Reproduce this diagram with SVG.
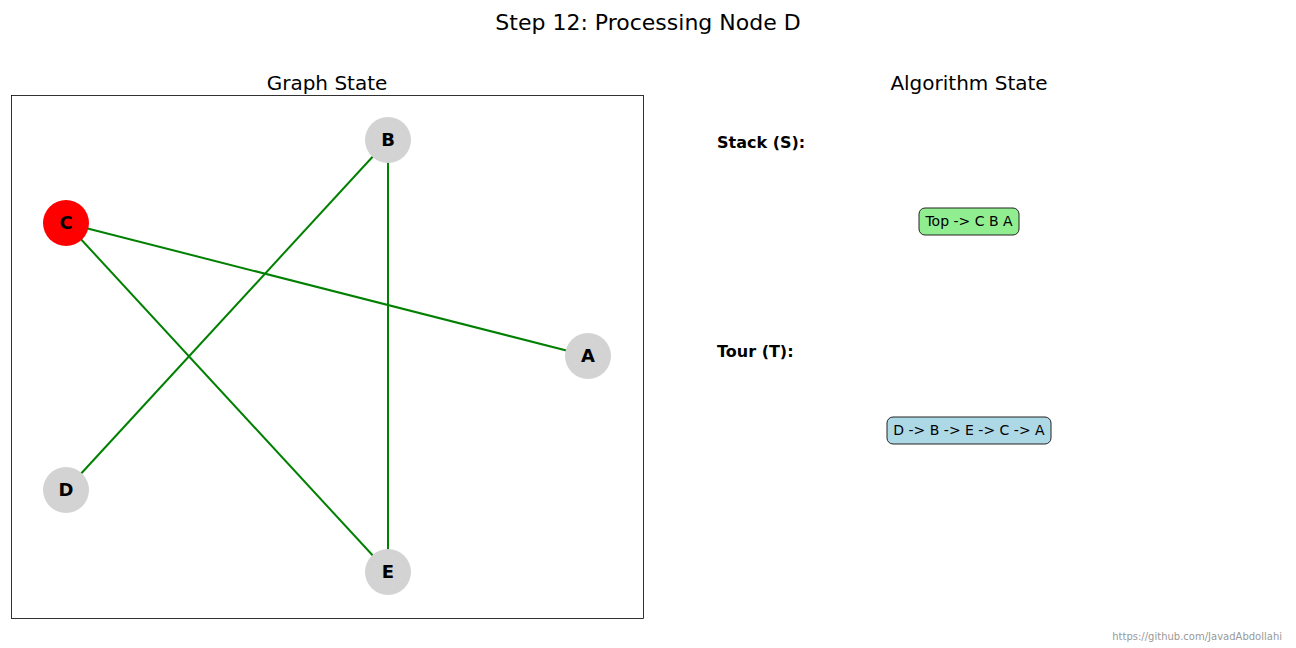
<svg xmlns="http://www.w3.org/2000/svg" width="1296" height="648" viewBox="0 0 1296 648">
<style>
text{font-family:"DejaVu Sans",sans-serif;fill:#000}
.title{font-size:22px}
.sub{font-size:20px}
.edge{stroke:#008000;stroke-width:2;fill:none}
.node{fill:#d3d3d3}
.lbl{font-size:18px;font-weight:bold;text-anchor:middle;dominant-baseline:central}
.hdr{font-size:16px;font-weight:bold}
.box{stroke:#222;stroke-width:1}
.boxt{font-size:14px;text-anchor:middle;dominant-baseline:central}
</style>
<rect width="1296" height="648" fill="#fff"/>
<text class="title" x="648" y="30" text-anchor="middle">Step 12: Processing Node D</text>
<text class="sub" x="327" y="90" text-anchor="middle">Graph State</text>
<text class="sub" x="969" y="90" text-anchor="middle">Algorithm State</text>
<rect x="11.5" y="95.5" width="632" height="523" fill="none" stroke="#000" stroke-width="0.8"/>
<g id="connectors">
<line class="edge" x1="66" y1="223" x2="588" y2="356"/>
<line class="edge" x1="66" y1="223" x2="388" y2="572"/>
<line class="edge" x1="388" y1="140" x2="66" y2="490"/>
<line class="edge" x1="388" y1="140" x2="388" y2="572"/>
</g>
<g id="node-B"><circle class="node" cx="388" cy="140" r="23"/><text class="lbl" x="388" y="139">B</text></g>
<g id="node-C"><circle cx="66" cy="223" r="23" fill="#ff0000"/><text class="lbl" x="66" y="222">C</text></g>
<g id="node-A"><circle class="node" cx="588" cy="356" r="23"/><text class="lbl" x="588" y="355">A</text></g>
<g id="node-D"><circle class="node" cx="66" cy="490" r="23"/><text class="lbl" x="66" y="489">D</text></g>
<g id="node-E"><circle class="node" cx="388" cy="572" r="23"/><text class="lbl" x="388" y="571">E</text></g>
<g id="stack">
<text class="hdr" x="717" y="148">Stack (S):</text>
<rect class="box" x="919" y="208" width="100" height="27" rx="6" fill="#90ee90"/>
<text class="boxt" x="969" y="221">Top -&gt; C B A</text>
</g>
<g id="tour">
<text class="hdr" x="717" y="357">Tour (T):</text>
<rect class="box" x="887" y="417" width="164" height="27" rx="6" fill="#add8e6"/>
<text class="boxt" x="969" y="430">D -&gt; B -&gt; E -&gt; C -&gt; A</text>
</g>
<text x="1282" y="640" text-anchor="end" font-size="10" style="fill:#999">https://github.com/JavadAbdollahi</text>
</svg>
